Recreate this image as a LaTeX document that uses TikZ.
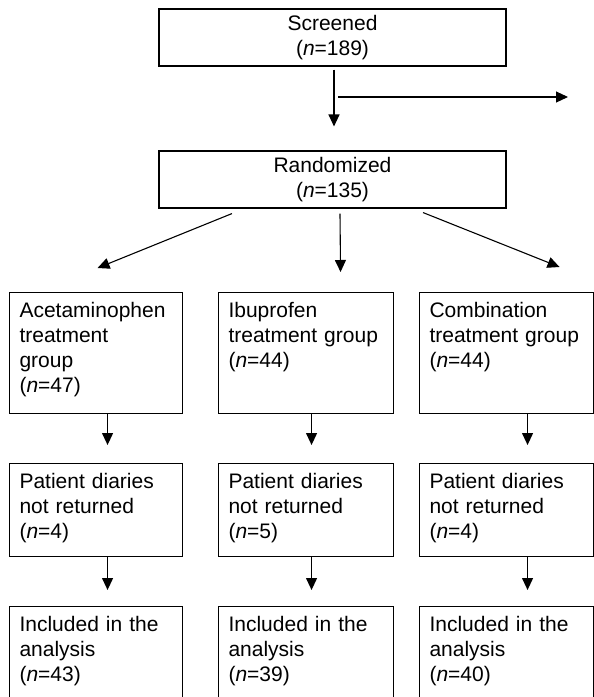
\documentclass[tikz,border=0pt]{standalone}
\usepackage{fontspec}
\setmainfont{Liberation Sans}
\usetikzlibrary{arrows.meta}

\tikzset{
  box/.style={draw, line width=1.1pt, font=\fontsize{21}{25}\selectfont},
  topbox/.style={box, minimum width=347pt, minimum height=57pt, align=center, inner sep=0pt},
  grpbox/.style={box, anchor=north west, align=left, text width=#1, inner xsep=10pt, inner ysep=9pt, text height=16pt},
  arr/.style={line width=1.1pt, -{Triangle[length=12pt,width=11pt]}}
}

\begin{document}
\begin{tikzpicture}[x=1pt, y=-1pt]
    \useasboundingbox (0,0) rectangle (594,697);
    % Screening and randomization
    \node[topbox] (screened) at (332.5,37.5) {Screened\\(\textit{n}=189)};
    \node[topbox] (randomized) at (332.5,179.5) {Randomized\\(\textit{n}=135)};
    \coordinate (excluded) at (568,97);
    \draw[arr] ([xshift=1.5pt,yshift=-3pt]screened.south) -- ([xshift=1.5pt,yshift=24pt]randomized.north);
    \draw[arr] ([xshift=5.5pt]screened.south |- excluded) -- (excluded);
    % Treatment groups
    \node[grpbox=153pt, text depth=87pt] (grpA) at (9,292) {Acetaminophen\\treatment\\group\\(\textit{n}=47)};
    \node[grpbox=155pt, text depth=87pt] (grpB) at (218,292) {Ibuprofen\\treatment group\\(\textit{n}=44)};
    \node[grpbox=154pt, text depth=87pt] (grpC) at (419,292) {Combination\\treatment group\\(\textit{n}=44)};
    \draw[arr] ([xshift=-100.5pt,yshift=-5pt]randomized.south) -- ([xshift=1.5pt,yshift=24pt]grpA.north);
    \draw[arr] ([xshift=7.5pt,yshift=-5pt]randomized.south) -- ([xshift=34.5pt,yshift=20pt]grpB.north);
    \draw[arr] ([xshift=90.5pt,yshift=-4pt]randomized.south) -- ([xshift=53pt,yshift=25pt]grpC.north);
    % Diaries not returned
    \node[grpbox=153pt, text depth=59pt] (diaA) at (9,463) {Patient diaries\\not returned\\(\textit{n}=4)};
    \node[grpbox=155pt, text depth=59pt] (diaB) at (218,463) {Patient diaries\\not returned\\(\textit{n}=5)};
    \node[grpbox=154pt, text depth=59pt] (diaC) at (419,463) {Patient diaries\\not returned\\(\textit{n}=4)};
    % Analysed (boxes run past the lower edge)
    \node[grpbox=153pt, text depth=100pt] (incA) at (9,606) {Included in the\\analysis\\(\textit{n}=43)};
    \node[grpbox=155pt, text depth=100pt] (incB) at (218,606) {Included in the\\analysis\\(\textit{n}=39)};
    \node[grpbox=154pt, text depth=100pt] (incC) at (419,606) {Included in the\\analysis\\(\textit{n}=40)};
    \foreach \c/\dx in {A/11.5,B/5.5,C/21}{
      \draw[arr] ([xshift=\dx pt]grp\c.south) -- ([xshift=\dx pt,yshift=18pt]dia\c.north);
      \draw[arr] ([xshift=\dx pt]dia\c.south) -- ([xshift=\dx pt,yshift=16pt]inc\c.north);
    }
\end{tikzpicture}
\end{document}
